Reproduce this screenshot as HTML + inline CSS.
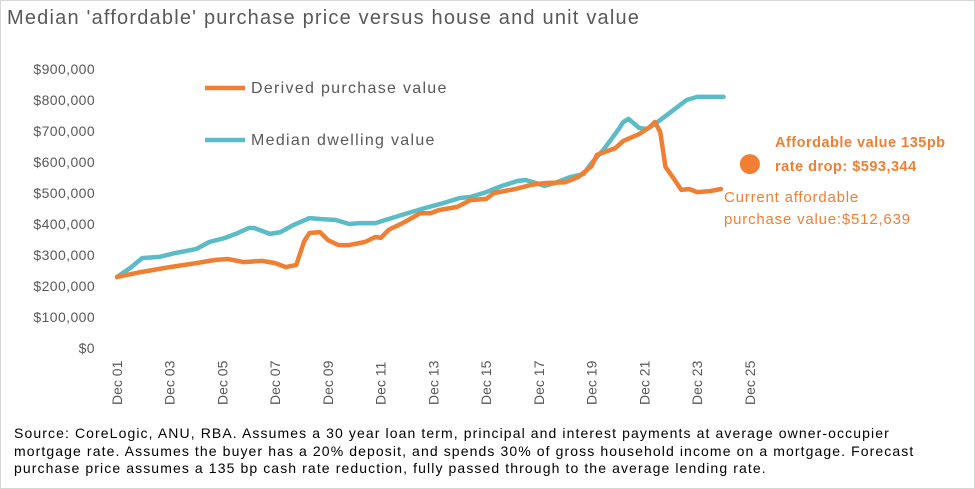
<!DOCTYPE html>
<html><head><meta charset="utf-8"><style>
body{margin:0;width:975px;height:489px;overflow:hidden;background:#fff;font-family:"Liberation Sans",sans-serif}
#wrap{position:absolute;left:0;top:0;width:973px;height:487px;border:1px solid #d6d6d6}
.t{position:absolute;white-space:nowrap}
</style></head><body>
<div id="wrap"></div>
<div class="t" style="left:7px;top:7px;font-size:20px;letter-spacing:1.2px;color:#595959">Median 'affordable' purchase price versus house and unit value</div>
<svg id="c" width="975" height="420" style="position:absolute;left:0;top:0"></svg>
<div class="t" style="left:14px;top:425px;font-size:14px;line-height:17.5px;letter-spacing:1.1px;color:#000">Source: CoreLogic, ANU, RBA. Assumes a 30 year loan term, principal and interest payments at average owner-occupier<br>mortgage rate. Assumes the buyer has a 20% deposit, and spends 30% of gross household income on a mortgage. Forecast<br>purchase price assumes a 135 bp cash rate reduction, fully passed through to the average lending rate.</div>
<script>
const yTicks=[0,100,200,300,400,500,600,700,800,900];
const xTickLabels=["Dec 01","Dec 03","Dec 05","Dec 07","Dec 09","Dec 11","Dec 13","Dec 15","Dec 17","Dec 19","Dec 21","Dec 23","Dec 25"];
const dwellT=[0,0.5,0.95,1.6,2.2,3,3.5,4.1,4.5,5,5.2,5.8,6.2,6.7,7.3,7.7,8.3,8.8,9.2,9.8,10.3,10.9,11.7,12.4,13,13.4,14,14.6,15.2,15.5,15.9,16.2,16.6,17.2,17.7,18,18.5,19,19.2,19.4,19.8,20.1,20.4,20.8,21.2,21.6,22,23];
const dwellV=[229,258,290,294,306,319,342,355,368,387,387,368,374,397,419,416,413,400,403,403,416,432,452,468,484,487,503,523,539,542,532,523,532,552,561,597,645,703,729,739,710,706,723,748,774,800,810,810];
const purchT=[0,0.9,2,3,3.7,4.2,4.8,5.5,6,6.4,6.8,7.1,7.3,7.7,8,8.4,8.8,9.4,9.8,10,10.3,10.9,11.5,11.9,12.2,12.9,13.4,14,14.3,15.1,15.7,16.2,17,17.5,18,18.2,18.9,19.2,19.8,20.2,20.4,20.6,20.8,21.1,21.4,21.7,22,22.5,22.9];
const purchV=[229,245,261,274,284,287,277,281,274,261,268,345,371,374,348,332,332,342,358,355,381,406,435,435,445,455,477,481,500,513,526,532,535,552,587,623,645,668,690,713,729,697,584,548,510,513,503,506,513];
const forecastT=[24.0];
const forecastV=[593.344];
const NS='http://www.w3.org/2000/svg';
const svg=document.getElementById('c');
const X=t=>117+t*26.37;
const Y=v=>348-v*0.31;
function mk(tag,attrs,txt){const e=document.createElementNS(NS,tag);for(const k in attrs)e.setAttribute(k,attrs[k]);if(txt!==undefined)e.textContent=txt;svg.appendChild(e);return e;}
yTicks.forEach(v=>{
 const e=mk('text',{x:95,y:Y(v)+5,'text-anchor':'end','font-size':14,'letter-spacing':0.4,fill:'#595959'},'$'+(v===0?'0':v+',000'));
 
 
});
xTickLabels.forEach((l,i)=>{
 const x=X(i*2);
 const e=mk('text',{x:0,y:0,transform:`translate(${x+5},405) rotate(-90)`,'font-size':14,fill:'#595959'},l);
 
 
});
function line(T,V,col,name){
 const d=T.map((t,i)=>(i?'L':'M')+X(t).toFixed(1)+','+Y(V[i]).toFixed(1)).join('');
 const p=mk('path',{d:d,fill:'none',stroke:col,'stroke-width':4.5,'stroke-linejoin':'round','stroke-linecap':'round'});
 
 
}
line(dwellT,dwellV,'#5bbcc7','median-dwelling-line');
line(purchT,purchV,'#f07f33','derived-purchase-line');
forecastT.forEach((t,i)=>{
 const c=mk('circle',{cx:X(t),cy:Y(forecastV[i]),r:10,fill:'#f07f33'});
 
 
});
let g;
g=mk('line',{x1:205,y1:88,x2:245,y2:88,stroke:'#f07f33','stroke-width':4.5});


g=mk('text',{x:251,y:93,'font-size':16,'letter-spacing':1.3,fill:'#595959'},'Derived purchase value');


g=mk('line',{x1:205,y1:140,x2:245,y2:140,stroke:'#5bbcc7','stroke-width':4.5});


g=mk('text',{x:251,y:145,'font-size':16,'letter-spacing':1.3,fill:'#595959'},'Median dwelling value');


g=mk('text',{x:775,y:147,'font-size':14.5,'font-weight':'bold','letter-spacing':0.5,fill:'#f07f33'},'Affordable value 135pb');


g=mk('text',{x:775,y:171,'font-size':14.5,'font-weight':'bold','letter-spacing':0.5,fill:'#f07f33'},'rate drop: $593,344');


g=mk('text',{x:724,y:202,'font-size':15,'letter-spacing':0.8,fill:'#f07f33'},'Current affordable');


g=mk('text',{x:724,y:224,'font-size':15,'letter-spacing':0.8,fill:'#f07f33'},'purchase value:$512,639');


</script>
</body></html>
